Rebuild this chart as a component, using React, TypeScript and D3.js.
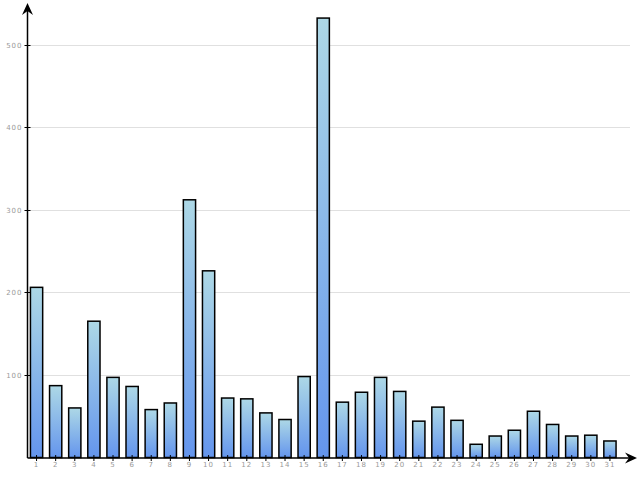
import React from "react";
import * as d3 from "d3";

const categories: string[] = Array.from({ length: 31 }, (_, i) => String(i + 1));
const values: number[] = [206, 87, 60, 165, 97, 86, 58, 66, 312, 226, 72, 71, 54, 46, 98, 532, 67, 79, 97, 80, 44, 61, 45, 16, 26, 33, 56, 40, 26, 27, 20];
const yTicks: number[] = [100, 200, 300, 400, 500];

const W = 640;
const H = 480;
const left = 27.5;
const bottom = 458;

export default function App() {
  const x = d3
    .scaleBand<string>()
    .domain(categories)
    .range([27, 619.5])
    .paddingInner(0.36)
    .paddingOuter(0.18);
  const y = d3.scaleLinear().domain([0, 500]).range([457.5, 44.5]);

  return (
    <svg width={W} height={H} style={{ position: "absolute", left: 0, top: 0, background: "#fff" }}>
      <defs>
        <linearGradient id="barGrad" x1="0" y1="0" x2="0" y2="1">
          <stop offset="0%" stopColor="#add8e6" />
          <stop offset="100%" stopColor="#6495ed" />
        </linearGradient>
      </defs>
      {yTicks.map((t) => (
        <g key={t}>
          <line x1={left} x2={630} y1={Math.round(y(t)) + 0.5} y2={Math.round(y(t)) + 0.5} stroke="#e0e0e0" strokeWidth={1} />
          <line x1={left - 3} x2={left + 3} y1={Math.round(y(t)) + 0.5} y2={Math.round(y(t)) + 0.5} stroke="#000" strokeWidth={1} />
          <text
            x={left - 5}
            y={Math.round(y(t)) + 3}
            textAnchor="end"
            fontFamily="DejaVu Sans, sans-serif"
            fontSize={7}
            letterSpacing={1}
            fill="#999"
          >
            {t}
          </text>
        </g>
      ))}
      {categories.map((c, i) => {
        const bx = x(c)!;
        const bw = x.bandwidth();
        return (
          <rect
            key={c}
            x={bx}
            y={y(values[i])}
            width={bw}
            height={y(0) - y(values[i])}
            fill="url(#barGrad)"
            stroke="#000"
            strokeWidth={1.5}
          />
        );
      })}
      {/* axes */}
      <line x1={left} x2={left} y1={bottom} y2={8} stroke="#000" strokeWidth={1.5} />
      <path d={`M${left},3 L${left + 5.5},15 L${left},11 L${left - 5.5},15 Z`} fill="#000" />
      <line x1={left} x2={632} y1={bottom} y2={bottom} stroke="#000" strokeWidth={1.5} />
      <path d={`M637,${bottom} L625,${bottom - 5.5} L629,${bottom} L625,${bottom + 5.5} Z`} fill="#000" />
      {categories.map((c) => {
        const cx = x(c)! + x.bandwidth() / 2;
        return (
          <g key={"t" + c}>
            <line x1={cx} x2={cx} y1={bottom - 3} y2={bottom + 3} stroke="#000" strokeWidth={1} />
            <text
              x={cx}
              y={bottom + 9}
              textAnchor="middle"
              fontFamily="DejaVu Sans, sans-serif"
              fontSize={7}
              letterSpacing={1}
              fill="#999"
            >
              {c}
            </text>
          </g>
        );
      })}
    </svg>
  );
}
